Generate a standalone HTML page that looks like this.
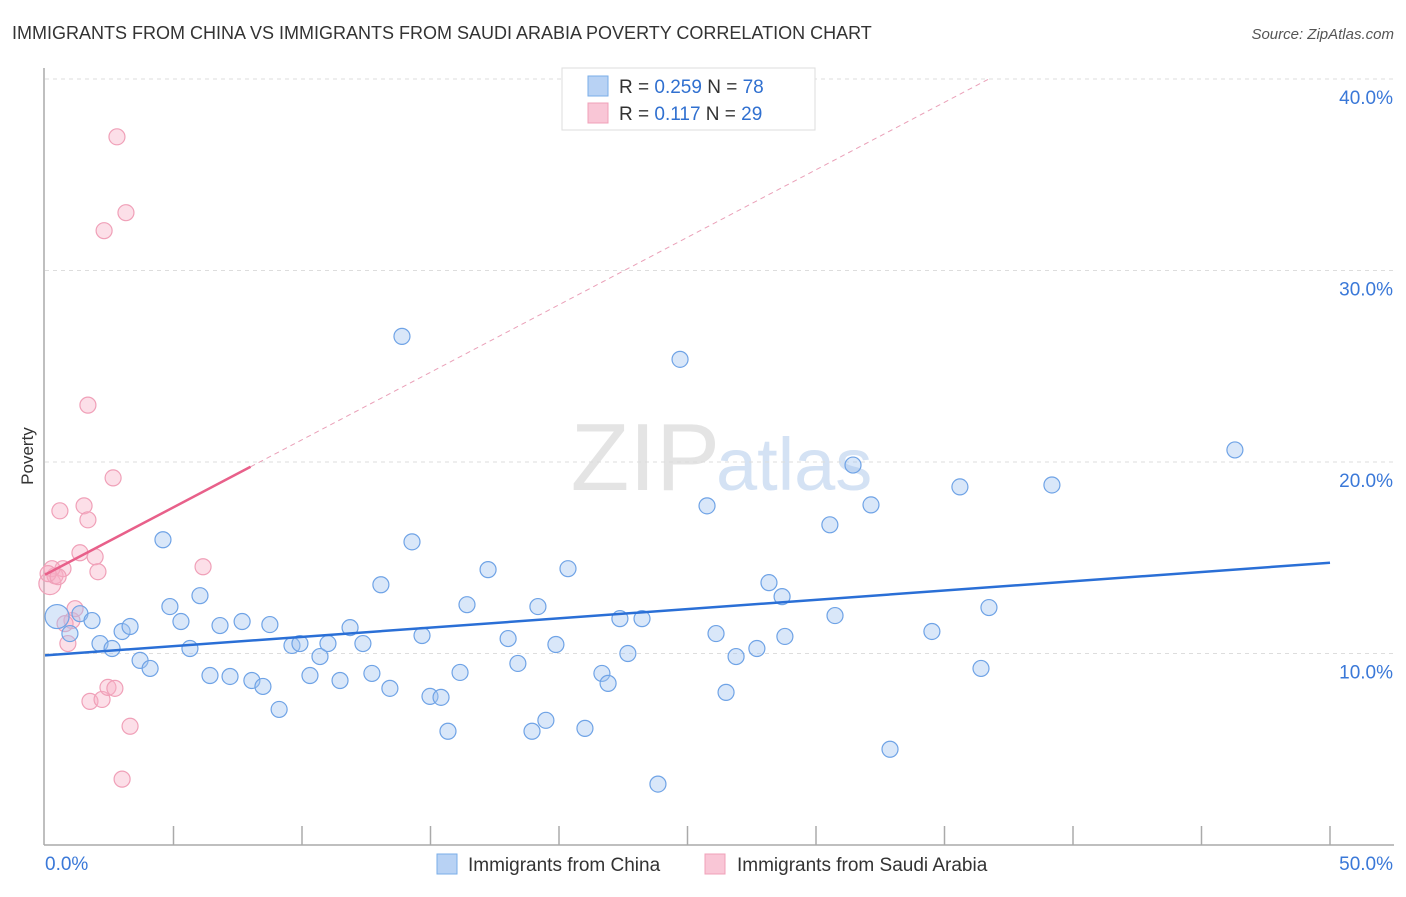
<!DOCTYPE html>
<html><head><meta charset="utf-8"><style>
body{margin:0;background:#fff;font-family:"Liberation Sans",sans-serif}
svg text{font-family:"Liberation Sans",sans-serif}
</style></head><body>
<svg id="chart" width="1406" height="892" viewBox="0 0 1406 892">
<text x="12" y="39" font-size="18" fill="#333">IMMIGRANTS FROM CHINA VS IMMIGRANTS FROM SAUDI ARABIA POVERTY CORRELATION CHART</text>
<text x="1394" y="39" font-size="15" fill="#555" text-anchor="end" font-style="italic">Source: ZipAtlas.com</text>
<text x="720" y="490" font-size="96" fill="#e4e4e4" text-anchor="end" font-family="Liberation Serif">ZIP</text>
<text x="716" y="490" font-size="74" fill="#d4e2f4">atlas</text>
<text x="33" y="456" font-size="17" fill="#333" text-anchor="middle" transform="rotate(-90 33 456)">Poverty</text>
<g id="grid"></g>
<g id="axes"></g>
<g id="pink-points"></g>
<g id="blue-points"></g>
<g id="trends"></g>
<g>
<rect x="562" y="68" width="253" height="62" fill="#fff" stroke="#ddd"/>
<rect x="588" y="76" width="20" height="20" fill="#b8d2f4" stroke="#7aaee8"/>
<rect x="588" y="103" width="20" height="20" fill="#f9c6d6" stroke="#f0a0b8"/>
<text x="619" y="93" font-size="19" fill="#333">R = <tspan fill="#3070d0">0.259</tspan>   N = <tspan fill="#3070d0">78</tspan></text>
<text x="619" y="120" font-size="19" fill="#333">R =  <tspan fill="#3070d0">0.117</tspan>   N = <tspan fill="#3070d0">29</tspan></text>
</g>
<g>
<rect x="437" y="854" width="20" height="20" fill="#b8d2f4" stroke="#7aaee8"/>
<text x="468" y="871" font-size="19" fill="#333">Immigrants from China</text>
<rect x="705" y="854" width="20" height="20" fill="#f9c6d6" stroke="#f0a0b8"/>
<text x="737" y="871" font-size="19" fill="#333">Immigrants from Saudi Arabia</text>
</g>
</svg>
<script>
const chinaX=[0.47,0.97,1.36,1.83,2.14,2.61,3.0,3.31,3.7,4.09,4.59,4.86,5.29,5.64,6.03,6.42,6.81,7.2,7.67,8.05,8.48,8.75,9.11,9.61,9.92,10.31,10.7,11.01,11.48,11.87,12.37,12.72,13.07,13.42,13.89,14.28,14.67,14.98,15.41,15.68,16.15,16.42,17.24,18.02,18.4,18.95,19.18,19.49,19.88,20.35,21.01,21.67,21.91,22.37,22.68,23.23,23.85,24.71,25.76,26.11,26.5,26.89,27.7,28.17,28.68,28.79,30.54,30.74,31.44,32.14,32.88,34.51,35.6,36.42,36.73,39.18,46.3];
const chinaY=[11.93,11.04,12.08,11.72,10.52,10.26,11.15,11.41,9.64,9.22,15.94,12.45,11.67,10.26,13.02,8.85,11.46,8.8,11.67,8.59,8.28,11.51,7.08,10.42,10.52,8.85,9.84,10.52,8.59,11.35,10.52,8.96,13.59,8.18,26.56,15.83,10.94,7.76,7.71,5.94,9.01,12.55,14.38,10.78,9.48,5.94,12.45,6.51,10.47,14.43,6.09,8.96,8.44,11.82,10.0,11.82,3.18,25.36,17.71,11.04,7.97,9.84,10.26,13.7,12.97,10.89,16.72,11.98,19.84,17.76,5.0,11.15,18.7,9.22,12.4,18.8,20.63];
const saudiX=[0.19,0.39,0.58,0.7,0.89,1.05,1.17,1.36,1.52,1.67,1.67,1.95,2.06,1.75,2.22,2.45,2.72,2.3,2.8,3.15,2.65,3.31,3.0,6.15,0.27,0.12,0.78,0.51];
const saudiY=[13.65,14.06,17.45,14.43,10.52,11.72,12.34,15.26,17.71,16.98,22.97,15.05,14.27,7.5,7.6,8.23,8.18,32.08,36.98,33.02,19.17,6.2,3.44,14.53,14.43,14.17,11.56,14.01];
const yTicks=[10,20,30,40];
const yTickLabels=["10.0%","20.0%","30.0%","40.0%"];
const xTickVals=[0,5,10,15,20,25,30,35,40,45,50];
const chinaTrend=[9.9,14.74];
const saudiTrend=[14.11,0.705];
const sx=v=>45+v*25.7, sy=v=>845-v*19.15;
const NS="http://www.w3.org/2000/svg";
function mk(p,t,a){const e=document.createElementNS(NS,t);for(const k in a)e.setAttribute(k,a[k]);p.appendChild(e);return e;}
const grid=document.getElementById('grid'),axes=document.getElementById('axes');
yTicks.forEach((v,i)=>{
 const l=mk(grid,'line',{x1:45,x2:1394,y1:sy(v),y2:sy(v),stroke:'#ddd','stroke-dasharray':'4 4'});
 
 
 const t=mk(grid,'text',{x:1393,y:sy(v)+25,'font-size':19,fill:'#3a78d8','text-anchor':'end'});t.textContent=yTickLabels[i];
 
 
});
const ax=mk(axes,'line',{x1:44,x2:1394,y1:845,y2:845,stroke:'#aaa','stroke-width':1.5});


const ay=mk(axes,'line',{x1:44,x2:44,y1:68,y2:845,stroke:'#aaa','stroke-width':1.5});


xTickVals.forEach(v=>{if(v===0)return;const t=mk(axes,'line',{x1:sx(v),x2:sx(v),y1:826,y2:845,stroke:'#aaa','stroke-width':1.5});
 
 });
const xl=mk(axes,'text',{x:45,y:870,'font-size':19,fill:'#3a78d8'});xl.textContent=xTickVals[0].toFixed(1)+'%';


const xr=mk(axes,'text',{x:1393,y:870,'font-size':19,fill:'#3a78d8','text-anchor':'end'});xr.textContent=xTickVals[xTickVals.length-1].toFixed(1)+'%';


const pg=document.getElementById('pink-points');
saudiX.forEach((x,i)=>{const c=mk(pg,'circle',{cx:sx(x),cy:sy(saudiY[i]),r:i===0?11:8,fill:'rgba(248,175,198,0.4)',stroke:'#f0a0b8','stroke-width':1.2});
 
 });
const bg=document.getElementById('blue-points');
chinaX.forEach((x,i)=>{const c=mk(bg,'circle',{cx:sx(x),cy:sy(chinaY[i]),r:i===0?12:8,fill:'rgba(160,195,240,0.4)',stroke:'#6fa3e6','stroke-width':1.2});
 
 });
const tg=document.getElementById('trends');
const bt=mk(tg,'line',{x1:sx(0),y1:sy(chinaTrend[0]),x2:sx(50),y2:sy(chinaTrend[1]),stroke:'#2a6fd6','stroke-width':2.5});


const xe=(40-saudiTrend[0])/saudiTrend[1];
const pd=mk(tg,'line',{x1:sx(8),y1:sy(saudiTrend[0]+8*saudiTrend[1]),x2:sx(xe),y2:sy(40),stroke:'#eaa0b8','stroke-width':1,'stroke-dasharray':'5 4'});


const pt=mk(tg,'line',{x1:sx(0),y1:sy(saudiTrend[0]),x2:sx(8),y2:sy(saudiTrend[0]+8*saudiTrend[1]),stroke:'#e8608a','stroke-width':2.5});


</script>
</body></html>
